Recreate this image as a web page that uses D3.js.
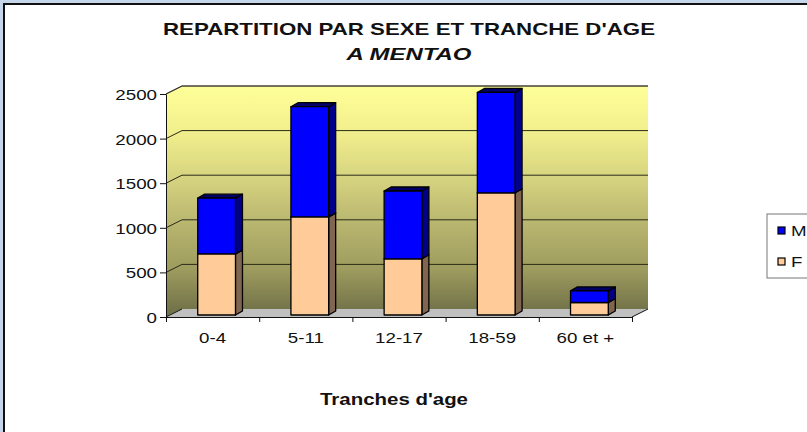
<!DOCTYPE html>
<html>
<head>
<meta charset="utf-8">
<script src="https://cdn.jsdelivr.net/npm/d3@7/dist/d3.min.js"></script>
<style>
  html, body { margin: 0; padding: 0; background: #fff; }
  svg { display: block; font-family: "Liberation Sans", Arial, sans-serif; }
</style>
</head>
<body>
<div id="chart"></div>
<script>
// ── Data ──
const categories = ['0-4', '5-11', '12-17', '18-59', '60 et +'];
const femmes     = [685, 1100, 630, 1370, 140];   // F
const hommes     = [625, 1235, 760, 1125, 130];   // M
const yTicks     = [0, 500, 1000, 1500, 2000, 2500];
const seriesKeys = ['F', 'M'];
const legendKeys = ['M', 'F'];

const W = 807, H = 432;
const X0 = 166, X1 = 632, Y0 = 317, Y1 = 94;
const DEPTH = [16, -8];        // floor / wall depth
const BAR_OFF = [4, -2];       // bar front offset into the depth
const BAR_DEPTH = [7, -4];     // bar side thickness
const SX = 1.25;               // horizontal stretch of the excel text

const colors = {
  F: { front: '#FFCC99', side: '#806650', top: '#B38F6B' },
  M: { front: '#0000FF', side: '#00008A', top: '#000066' }
};

const svg = d3.select('#chart').append('svg')
  .attr('width', W).attr('height', H);

// frame (clipped on the right and bottom by the window)
svg.append('rect').attr('x', 0).attr('y', 0).attr('width', W).attr('height', 3).attr('fill', '#C6D6EA');
svg.append('rect').attr('x', 0).attr('y', 0).attr('width', 3).attr('height', H).attr('fill', '#C6D6EA');
svg.append('rect').attr('x', 3).attr('y', 3).attr('width', W).attr('height', 2).attr('fill', '#111');
svg.append('rect').attr('x', 3).attr('y', 3).attr('width', 2).attr('height', H).attr('fill', '#111');

const y = d3.scaleLinear().domain([0, 2500]).range([Y0, Y1]);
const xBand = d3.scaleBand().domain(categories).range([X0, X1]).padding(0);
const xIdx = d3.scaleLinear().domain([0, categories.length]).range([X0, X1]);

// ── Walls ──
const defs = svg.append('defs');
const grad = defs.append('linearGradient').attr('id', 'wallGrad')
  .attr('gradientUnits', 'userSpaceOnUse')
  .attr('x1', 0).attr('y1', Y1 + DEPTH[1]).attr('x2', 0).attr('y2', Y0 + DEPTH[1]);
[[0, '#FFFF99'], [0.2, '#F2F08D'], [0.42, '#D5D27F'], [0.62, '#B8B56F'], [0.82, '#9E9C5E'], [1, '#74744A']]
  .forEach(([o, c]) => grad.append('stop').attr('offset', o).attr('stop-color', c));

const bx0 = X0 + DEPTH[0], bx1 = X1 + DEPTH[0];
const by = v => y(v) + DEPTH[1];

// back wall
svg.append('rect').attr('x', bx0).attr('y', by(2500)).attr('width', bx1 - bx0)
  .attr('height', by(0) - by(2500)).attr('fill', 'url(#wallGrad)');
// side wall
svg.append('path')
  .attr('d', `M${X0},${y(2500)}L${bx0},${by(2500)}L${bx0},${by(0)}L${X0},${y(0)}Z`)
  .attr('fill', 'url(#wallGrad)');
// top edge
svg.append('path')
  .attr('d', `M${X0},${y(2500)}L${bx0},${by(2500)}L${bx1},${by(2500)}`)
  .attr('fill', 'none').attr('stroke', '#777').attr('stroke-width', 1.2);

// gridlines
svg.append('g').selectAll('path').data(yTicks.filter(v => v > 0)).join('path')
  .attr('d', v => `M${X0},${y(v)}L${bx0},${by(v)}L${bx1},${by(v)}`)
  .attr('fill', 'none').attr('stroke', '#2a2a1a').attr('stroke-width', 1);

// floor
svg.append('path')
  .attr('d', `M${X0},${y(0)}L${X1},${y(0)}L${bx1},${by(0)}L${bx0},${by(0)}Z`)
  .attr('fill', '#C0C0C0');
svg.append('path')
  .attr('d', `M${X0},${y(0)}L${bx0},${by(0)}M${X1},${y(0)}L${bx1},${by(0)}`)
  .attr('stroke', '#111').attr('stroke-width', 1);

// ── Bars ──
const table = categories.map((c, i) => ({ cat: c, F: femmes[i], M: hommes[i] }));
const stacked = d3.stack().keys(seriesKeys)(table);
const barW = xBand.bandwidth() * 0.405;

const bars = svg.append('g');
table.forEach((row, i) => {
  stacked.forEach(layer => {
    const d = layer[i];
    const key = layer.key;
    const xl = xBand(row.cat) + xBand.bandwidth() / 2 - barW / 2 + BAR_OFF[0];
    const xr = xl + barW;
    const yb = y(d[0]) + BAR_OFF[1];
    const yt = y(d[1]) + BAR_OFF[1];
    const [dx, dy] = BAR_DEPTH;
    const g = bars.append('g').attr('stroke', '#000').attr('stroke-width', 1.3).attr('stroke-linejoin', 'round');
    g.append('path').attr('d', `M${xr},${yb}L${xr + dx},${yb + dy}L${xr + dx},${yt + dy}L${xr},${yt}Z`)
      .attr('fill', colors[key].side);
    g.append('path').attr('d', `M${xl},${yt}L${xl + dx},${yt + dy}L${xr + dx},${yt + dy}L${xr},${yt}Z`)
      .attr('fill', colors[key].top);
    g.append('rect').attr('x', xl).attr('y', yt).attr('width', barW).attr('height', yb - yt)
      .attr('fill', colors[key].front);
  });
});

// ── Axes ──
const yAxis = svg.append('g').attr('transform', `translate(${X0},0)`)
  .call(d3.axisLeft(y).tickValues(yTicks).tickFormat(d3.format('d')).tickSize(6).tickSizeOuter(0));
yAxis.select('.domain').attr('stroke', '#111');
yAxis.selectAll('line').attr('stroke', '#111');
yAxis.selectAll('text')
  .attr('x', -9 / SX).attr('dy', '0.36em')
  .attr('transform', `scale(${SX},1)`)
  .attr('font-size', 15).attr('fill', '#111')
  .attr('font-family', '"Liberation Sans", Arial, sans-serif');

const xTicksAxis = svg.append('g').attr('transform', `translate(0,${Y0})`)
  .call(d3.axisBottom(xIdx).tickValues(d3.range(categories.length + 1)).tickFormat('').tickSize(5).tickSizeOuter(0));
xTicksAxis.select('.domain').attr('stroke', '#111');
xTicksAxis.selectAll('line').attr('stroke', '#111');

const xLabels = svg.append('g').attr('transform', `translate(0,${Y0})`)
  .call(d3.axisBottom(xBand).tickSize(0));
xLabels.select('.domain').remove();
xLabels.selectAll('text')
  .attr('y', 26).attr('dy', 0)
  .attr('transform', `scale(${SX},1)`)
  .attr('x', 0)
  .attr('font-size', 15).attr('fill', '#111')
  .attr('font-family', '"Liberation Sans", Arial, sans-serif');

// ── Titles ──
svg.append('text').attr('x', 409).attr('y', 35).attr('text-anchor', 'middle')
  .attr('font-size', 17).attr('font-weight', 'bold').attr('fill', '#111')
  .attr('textLength', 492).attr('lengthAdjust', 'spacingAndGlyphs')
  .text("REPARTITION PAR SEXE ET TRANCHE D'AGE");
svg.append('text').attr('x', 409).attr('y', 60).attr('text-anchor', 'middle')
  .attr('font-size', 17).attr('font-weight', 'bold').attr('font-style', 'italic').attr('fill', '#111')
  .attr('textLength', 125).attr('lengthAdjust', 'spacingAndGlyphs')
  .text('A MENTAO');
svg.append('text').attr('x', 394).attr('y', 405).attr('text-anchor', 'middle')
  .attr('font-size', 16).attr('font-weight', 'bold').attr('fill', '#111')
  .attr('textLength', 148).attr('lengthAdjust', 'spacingAndGlyphs')
  .text("Tranches d'age");

// ── Legend ──
const legend = svg.append('g').attr('transform', 'translate(767,214)');
legend.append('rect').attr('x', 0).attr('y', 0).attr('width', 60).attr('height', 64)
  .attr('fill', '#fff').attr('stroke', '#777').attr('stroke-width', 1);
legendKeys.forEach((k, i) => {
  const gy = 13 + i * 31;
  legend.append('rect').attr('x', 11).attr('y', gy).attr('width', 7).attr('height', 7)
    .attr('fill', colors[k].front).attr('stroke', '#000').attr('stroke-width', 1.2);
  legend.append('text').attr('transform', `translate(24,${gy + 9}) scale(${SX},1)`)
    .attr('font-size', 15).attr('fill', '#111').text(k);
});
</script>
</body>
</html>
